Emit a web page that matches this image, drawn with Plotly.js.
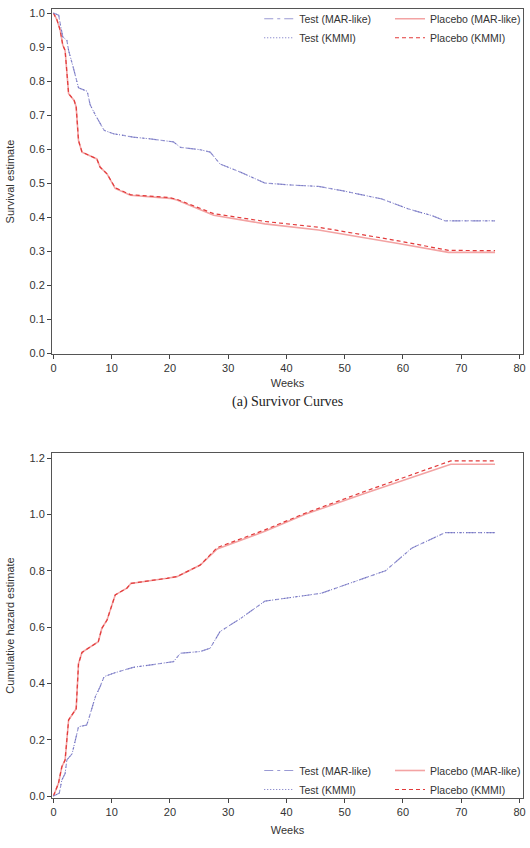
<!DOCTYPE html>
<html>
<head>
<meta charset="utf-8">
<script src="https://cdn.plot.ly/plotly-3.0.1.min.js"></script>
<style>html,body{margin:0;padding:0;background:#fff;}#chart{width:530px;height:848px;}</style>
</head>
<body>
<div id="chart"></div>
<script>
// ---- Survival curves (top panel) ----
var weeksTestSurv = [0, 0.9, 1.2, 1.6, 2.3, 2.6, 3.4, 4.3, 5.8, 6.3, 7.2, 8.0, 8.7, 10.3, 13.7, 16.6, 20.6, 21.8, 25.2, 26.9, 28.6, 32.1, 36.3, 40, 45.5, 50, 56.4, 60.9, 65, 67.2, 75.8];
var survTestMAR  = [1.0, 0.994, 0.965, 0.93, 0.92, 0.89, 0.84, 0.78, 0.77, 0.73, 0.70, 0.675, 0.655, 0.645, 0.635, 0.63, 0.621, 0.605, 0.598, 0.591, 0.556, 0.532, 0.50, 0.495, 0.49, 0.476, 0.453, 0.424, 0.404, 0.389, 0.389];
var survTestKMMI = [1.0, 0.994, 0.965, 0.93, 0.92, 0.89, 0.84, 0.78, 0.77, 0.73, 0.70, 0.675, 0.655, 0.645, 0.635, 0.63, 0.621, 0.605, 0.598, 0.591, 0.556, 0.532, 0.50, 0.495, 0.49, 0.476, 0.453, 0.424, 0.404, 0.389, 0.389];

var weeksPlacSurv = [0, 0.6, 1.15, 1.6, 2.0, 2.6, 3.55, 3.9, 4.3, 4.9, 7.45, 8.0, 9.2, 10.6, 13.2, 20, 21.2, 27.5, 36.3, 45.5, 59.2, 67.8, 75.8];
var survPlacMAR  = [1.0, 0.98, 0.95, 0.906, 0.89, 0.763, 0.743, 0.724, 0.625, 0.591, 0.571, 0.547, 0.527, 0.484, 0.464, 0.455, 0.450, 0.405, 0.380, 0.362, 0.322, 0.296, 0.296];
var survPlacKMMI = [1.0, 0.98, 0.95, 0.906, 0.89, 0.763, 0.743, 0.724, 0.625, 0.591, 0.571, 0.547, 0.527, 0.486, 0.466, 0.457, 0.452, 0.410, 0.387, 0.370, 0.330, 0.302, 0.301];

// ---- Cumulative hazard (bottom panel) ----
var weeksTestHaz = [0, 1.0, 1.44, 2.0, 2.3, 3.2, 4.3, 5.7, 6.0, 7.2, 8.0, 8.7, 10.3, 13.7, 20.6, 21.8, 25.2, 26.9, 28.6, 32.1, 36.3, 46, 57, 61.5, 67.2, 75.8];
var hazTestMAR  = [0, 0.01, 0.057, 0.08, 0.128, 0.15, 0.246, 0.252, 0.27, 0.353, 0.388, 0.424, 0.436, 0.457, 0.477, 0.507, 0.513, 0.525, 0.584, 0.63, 0.692, 0.72, 0.80, 0.88, 0.935, 0.935];
var hazTestKMMI = [0, 0.01, 0.057, 0.08, 0.128, 0.15, 0.246, 0.252, 0.27, 0.353, 0.388, 0.424, 0.436, 0.457, 0.477, 0.507, 0.513, 0.525, 0.584, 0.63, 0.692, 0.72, 0.80, 0.88, 0.935, 0.935];

var weeksPlacHaz = [0, 0.86, 1.44, 2.0, 2.6, 3.4, 3.9, 4.3, 4.9, 7.7, 8.3, 9.2, 10.6, 12.6, 13.3, 19.5, 21.2, 25.2, 28.1, 36.3, 43.2, 53.5, 68.2, 75.8];
var hazPlacMAR  = [0, 0.045, 0.104, 0.128, 0.27, 0.294, 0.31, 0.47, 0.51, 0.548, 0.595, 0.625, 0.714, 0.738, 0.755, 0.773, 0.779, 0.82, 0.877, 0.94, 1.0, 1.075, 1.178, 1.178];
var hazPlacKMMI = [0, 0.045, 0.104, 0.128, 0.27, 0.294, 0.31, 0.47, 0.51, 0.548, 0.595, 0.625, 0.714, 0.738, 0.755, 0.773, 0.779, 0.82, 0.882, 0.945, 1.004, 1.082, 1.19, 1.19];

var seriesNames = ['Test (MAR-like)', 'Placebo (MAR-like)', 'Test (KMMI)', 'Placebo (KMMI)'];
var yTicksTop = [0, 0.1, 0.2, 0.3, 0.4, 0.5, 0.6, 0.7, 0.8, 0.9, 1.0];
var yTicksBot = [0, 0.2, 0.4, 0.6, 0.8, 1.0, 1.2];
var xTicks = [0, 10, 20, 30, 40, 50, 60, 70, 80];

var styles = [
  {color: '#9a9ad4', width: 1.2, dash: '9px,4px,3px,4px'},
  {color: '#f3a3a3', width: 1.6, dash: 'solid'},
  {color: '#6e6ec0', width: 1, dash: '1px,2px'},
  {color: '#e23a3a', width: 1.2, dash: '4px,3px'}
];

function tr(x, y, i, xa, ya, leg) {
  return {x: x, y: y, type: 'scatter', mode: 'lines', name: seriesNames[i],
    line: styles[i], xaxis: xa, yaxis: ya, legend: leg, legendrank: i + 1, hoverinfo: 'skip'};
}

var data = [
  tr(weeksPlacSurv, survPlacMAR, 1, 'x', 'y', 'legend3'),
  tr(weeksPlacSurv, survPlacKMMI, 3, 'x', 'y', 'legend3'),
  tr(weeksTestSurv, survTestMAR, 0, 'x', 'y', 'legend'),
  tr(weeksTestSurv, survTestKMMI, 2, 'x', 'y', 'legend'),
  tr(weeksPlacHaz, hazPlacMAR, 1, 'x2', 'y2', 'legend4'),
  tr(weeksPlacHaz, hazPlacKMMI, 3, 'x2', 'y2', 'legend4'),
  tr(weeksTestHaz, hazTestMAR, 0, 'x2', 'y2', 'legend2'),
  tr(weeksTestHaz, hazTestKMMI, 2, 'x2', 'y2', 'legend2')
];

var tickFont = {family: 'Liberation Sans, Arial, sans-serif', size: 11, color: '#333'};
function xax(anchor, standoff) {
  return {anchor: anchor, range: [-0.25, 80.6], tickvals: xTicks, ticks: 'outside', ticklen: 4,
    tickcolor: '#444', showline: true, linecolor: '#555', linewidth: 1, mirror: true,
    showgrid: false, zeroline: false, tickfont: tickFont,
    title: {text: 'Weeks', font: tickFont, standoff: standoff}};
}
function yax(anchor, domain, range, ticks, title) {
  return {anchor: anchor, domain: domain, range: range, tickvals: ticks, tickformat: '.1f',
    ticks: 'outside', ticklen: 4, tickcolor: '#444', showline: true, linecolor: '#555',
    linewidth: 1, mirror: true, showgrid: false, zeroline: false, tickfont: tickFont,
    title: {text: title, font: tickFont, standoff: 12}};
}
var legFont = {family: 'Liberation Sans, Arial, sans-serif', size: 10.5, color: '#333'};
function leg(x, y, yanchor) {
  return {orientation: 'v', x: x, xanchor: 'left', y: y, yanchor: yanchor,
    bgcolor: 'rgba(0,0,0,0)', font: legFont, traceorder: 'normal', tracegroupgap: 0};
}

var layout = {
  width: 530, height: 848,
  margin: {l: 52, r: 7, t: 9, b: 50, autoexpand: false},
  paper_bgcolor: '#fff', plot_bgcolor: '#fff',
  showlegend: true,
  xaxis: xax('y', 6),
  yaxis: yax('x', [0.5627, 1], [-0.003, 1.012], yTicksTop, 'Survival estimate'),
  xaxis2: xax('y2', 9),
  yaxis2: yax('x2', [0, 0.4373], [-0.007, 1.218], yTicksBot, 'Cumulative hazard estimate'),
  legend: leg(0.44, 1.006, 'top'),
  legend3: leg(0.7176, 1.006, 'top'),
  legend2: leg(0.44, -0.0076, 'bottom'),
  legend4: leg(0.7176, -0.0076, 'bottom'),
  annotations: [{text: '(a) Survivor Curves', xref: 'paper', yref: 'paper', x: 0.5, y: 0.5019,
    xanchor: 'center', yanchor: 'middle', showarrow: false,
    font: {family: 'Liberation Serif, DejaVu Serif, serif', size: 14, color: '#222'}}]
};

Plotly.newPlot('chart', data, layout, {displayModeBar: false, staticPlot: true});
</script>
</body>
</html>
